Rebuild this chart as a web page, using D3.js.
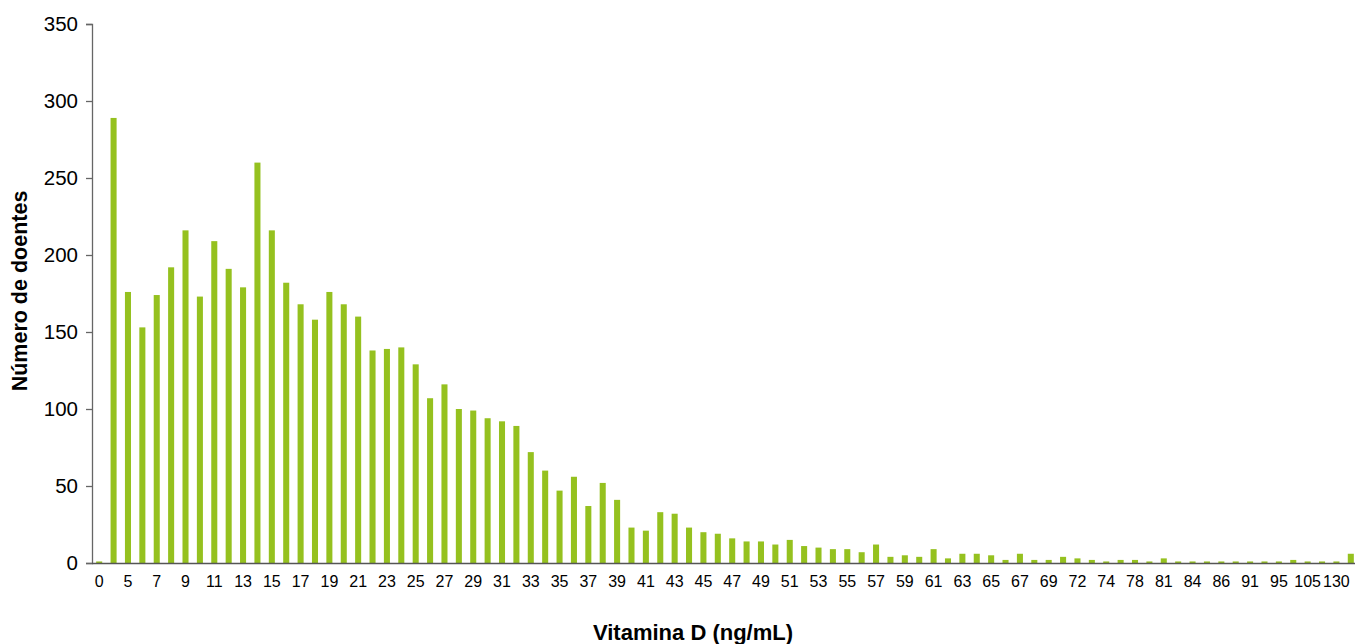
<!DOCTYPE html>
<html>
<head>
<meta charset="utf-8">
<script src="https://cdn.jsdelivr.net/npm/d3@7"></script>
<style>
  html, body { margin: 0; padding: 0; background: #fff; }
  svg { display: block; }
  text { font-family: "Liberation Sans", Arial, sans-serif; fill: #000; }
</style>
</head>
<body>
<svg id="chart" width="1355" height="644"></svg>
<script>
const categories = ["0","4","5","6","7","8","9","10","11","12","13","14","15","16","17","18","19","20","21","22","23","24","25","26","27","28","29","30","31","32","33","34","35","36","37","38","39","40","41","42","43","44","45","46","47","48","49","50","51","52","53","54","55","56","57","58","59","60","61","62","63","64","65","66","67","68","69","70","72","73","74","76","78","80","81","82","84","85","86","88","91","93","95","100","105","110","130","150"];
const values = [1,289,176,153,174,192,216,173,209,191,179,260,216,182,168,158,176,168,160,138,139,140,129,107,116,100,99,94,92,89,72,60,47,56,37,52,41,23,21,33,32,23,20,19,16,14,14,12,15,11,10,9,9,7,12,4,5,4,9,3,6,6,5,2,6,2,2,4,3,2,1,2,2,1,3,1,1,1,1,1,1,1,1,2,1,1,1,6];
const yTicks = [0,50,100,150,200,250,300,350];
const xTitle = "Vitamina D (ng/mL)";
const yTitle = "Número de doentes";

const svg = d3.select("#chart");
const x0 = 92, x1 = 1358, yTop = 24, yBottom = 563;

const x = d3.scaleBand().domain(categories).range([x0, x1]).paddingInner(0.58).paddingOuter(0.29);
const y = d3.scaleLinear().domain([0, 350]).range([yBottom, yTop]);

// bars
svg.append("g").selectAll("rect").data(values).join("rect")
  .attr("x", (d, i) => x(categories[i]))
  .attr("width", x.bandwidth())
  .attr("y", d => y(d))
  .attr("height", d => y(0) - y(d))
  .attr("fill", "#95c11f");

// y axis
const yAxis = svg.append("g").attr("transform", `translate(${x0},0)`)
  .call(d3.axisLeft(y).tickValues(yTicks).tickSize(6).tickPadding(8).tickFormat(d3.format("d")));
yAxis.select(".domain").attr("stroke", "#666").attr("stroke-width", 1.3);
yAxis.selectAll(".tick line").attr("stroke", "#666").attr("stroke-width", 1.3);
yAxis.selectAll(".tick text").attr("font-size", 20.5).attr("fill", "#000")
  .attr("font-family", "Liberation Sans, Arial, sans-serif");

// x axis
const xAxis = svg.append("g").attr("transform", `translate(0,${yBottom})`)
  .call(d3.axisBottom(x).tickValues(categories.filter((d, i) => i % 2 === 0)).tickSize(0).tickPadding(13));
xAxis.select(".domain").attr("stroke", "#555").attr("stroke-width", 1.5)
  .attr("d", `M${x0},0.5H1355`);
xAxis.selectAll(".tick text").attr("font-size", 16).attr("fill", "#000")
  .attr("font-family", "Liberation Sans, Arial, sans-serif");

// titles
svg.append("text")
  .attr("x", 693).attr("y", 640)
  .attr("text-anchor", "middle")
  .attr("font-size", 22).attr("font-weight", "bold")
  .text(xTitle);

svg.append("text")
  .attr("transform", "translate(27,291) rotate(-90)")
  .attr("text-anchor", "middle")
  .attr("font-size", 21.5).attr("font-weight", "bold")
  .text(yTitle);
</script>
</body>
</html>
